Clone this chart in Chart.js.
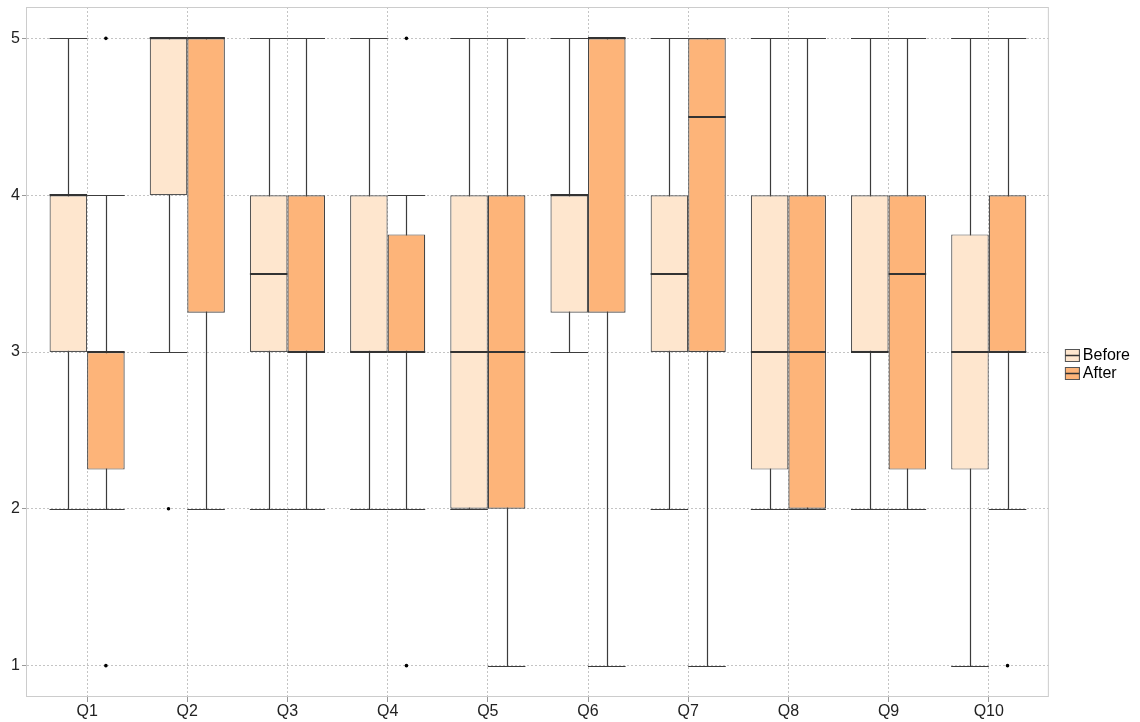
<!DOCTYPE html>
<html lang="en">
<head>
    <meta charset="UTF-8">
    <title>Before / After boxplots</title>
    <style>
        body {
            margin: 0;
            padding: 0;
            background: #ffffff;
            font-family: "Liberation Sans", Arial, sans-serif;
        }
        .chart-box {
            position: relative;
            width: 1140px;
            height: 722px;
        }
    </style>
</head>
<body>
<div class="chart-box">
    <canvas id="chart"></canvas>
</div>

<script src="https://cdn.jsdelivr.net/npm/chart.js"></script>
<script>
    // categories and y ticks
    var categories = ['Q1', 'Q2', 'Q3', 'Q4', 'Q5', 'Q6', 'Q7', 'Q8', 'Q9', 'Q10'];
    var yTicks = [1, 2, 3, 4, 5];

    // Before: whisker low, Q1, median, Q3, whisker high, outliers
    var beforeLow = [2, 3, 2, 2, 2, 3, 2, 2, 2, 1];
    var beforeQ1 = [3, 4, 3, 3, 2, 3.25, 3, 2.25, 3, 2.25];
    var beforeMed = [4, 5, 3.5, 3, 3, 4, 3.5, 3, 3, 3];
    var beforeQ3 = [4, 5, 4, 4, 4, 4, 4, 4, 4, 3.75];
    var beforeHigh = [5, 5, 5, 5, 5, 5, 5, 5, 5, 5];
    var beforeOut = [[], [2], [], [], [], [], [], [], [], []];

    // After
    var afterLow = [2, 2, 2, 2, 1, 1, 1, 2, 2, 2];
    var afterQ1 = [2.25, 3.25, 3, 3, 2, 3.25, 3, 2, 2.25, 3];
    var afterMed = [3, 5, 3, 3, 3, 5, 4.5, 3, 3.5, 3];
    var afterQ3 = [3, 5, 4, 3.75, 4, 5, 5, 4, 4, 4];
    var afterHigh = [4, 5, 5, 4, 5, 5, 5, 5, 5, 5];
    var afterOut = [[5, 1], [], [], [5, 1], [], [], [], [], [], [1]];

    var stats = [
        {low: beforeLow, med: beforeMed, high: beforeHigh, out: beforeOut},
        {low: afterLow, med: afterMed, high: afterHigh, out: afterOut}
    ];

    var lineColor = '#3c3c3c';
    var fontFamily = '"Liberation Sans", Arial, sans-serif';

    function boxData(q1, q3) {
        return categories.map(function (c, i) {
            return {x: i + 1, y: [q1[i], q3[i]]};
        });
    }

    // small boxplot key for the legend
    function legendIcon(fill) {
        var c = document.createElement('canvas');
        c.width = 34;
        c.height = 15;
        var g = c.getContext('2d');
        g.fillStyle = fill;
        g.fillRect(19.5, 1.5, 14, 12);
        g.strokeStyle = '#555';
        g.lineWidth = 1;
        g.strokeRect(19.5, 1.5, 14, 12);
        g.beginPath();
        g.moveTo(19.5, 7.5);
        g.lineTo(33.5, 7.5);
        g.strokeStyle = '#333';
        g.lineWidth = 1.5;
        g.stroke();
        return c;
    }

    var boxplotParts = {
        id: 'boxplotParts',
        beforeDatasetsDraw: function (chart) {
            var ctx = chart.ctx, area = chart.chartArea, y = chart.scales.y;
            // panel border
            ctx.save();
            ctx.strokeStyle = '#cccccc';
            ctx.lineWidth = 1;
            ctx.strokeRect(area.left - 0.5, area.top + 0.5, area.right - area.left, area.bottom - area.top - 1);
            ctx.restore();
            // whiskers + caps
            ctx.save();
            ctx.strokeStyle = lineColor;
            ctx.lineWidth = 1.2;
            stats.forEach(function (s, d) {
                var meta = chart.getDatasetMeta(d);
                meta.data.forEach(function (bar, i) {
                    var x = Math.round(bar.x) + 0.5;
                    var x0 = bar.x - bar.width / 2, x1 = bar.x + bar.width / 2;
                    var yl = Math.round(y.getPixelForValue(s.low[i])) + 0.5;
                    var yh = Math.round(y.getPixelForValue(s.high[i])) + 0.5;
                    ctx.beginPath();
                    ctx.moveTo(x, yl);
                    ctx.lineTo(x, yh);
                    ctx.moveTo(x0, yl);
                    ctx.lineTo(x1, yl);
                    ctx.moveTo(x0, yh);
                    ctx.lineTo(x1, yh);
                    ctx.stroke();
                });
            });
            ctx.restore();
        },
        afterDatasetsDraw: function (chart) {
            var ctx = chart.ctx, y = chart.scales.y;
            ctx.save();
            stats.forEach(function (s, d) {
                var meta = chart.getDatasetMeta(d);
                meta.data.forEach(function (bar, i) {
                    var x0 = bar.x - bar.width / 2, x1 = bar.x + bar.width / 2;
                    var ym = Math.round(y.getPixelForValue(s.med[i]));
                    ctx.beginPath();
                    ctx.strokeStyle = '#333333';
                    ctx.lineWidth = 2;
                    ctx.moveTo(x0, ym);
                    ctx.lineTo(x1, ym);
                    ctx.stroke();
                    s.out[i].forEach(function (v) {
                        ctx.beginPath();
                        ctx.fillStyle = '#000000';
                        ctx.arc(bar.x, y.getPixelForValue(v), 1.8, 0, Math.PI * 2);
                        ctx.fill();
                    });
                });
            });
            ctx.restore();
        }
    };

    var ctx = document.getElementById('chart').getContext('2d');
    new Chart(ctx, {
        type: 'bar',
        data: {
            datasets: [{
                label: 'Before',
                data: boxData(beforeQ1, beforeQ3),
                backgroundColor: '#fee6ce',
                borderColor: '#555555',
                borderWidth: 1.2,
                borderSkipped: false
            }, {
                label: 'After',
                data: boxData(afterQ1, afterQ3),
                backgroundColor: '#fdb479',
                borderColor: '#444444',
                borderWidth: 1.2,
                borderSkipped: false
            }]
        },
        options: {
            responsive: true,
            maintainAspectRatio: false,
            animation: false,
            categoryPercentage: 0.75,
            barPercentage: 1.0,
            layout: {padding: {top: 7}},
            plugins: {
                tooltip: {enabled: false},
                legend: {
                    position: 'right',
                    labels: {
                        usePointStyle: true,
                        pointStyleWidth: 24,
                        padding: 2,
                        color: '#111111',
                        font: {family: fontFamily, size: 16},
                        generateLabels: function (chart) {
                            return chart.data.datasets.map(function (ds, i) {
                                return {
                                    text: ds.label,
                                    pointStyle: legendIcon(ds.backgroundColor),
                                    fillStyle: ds.backgroundColor,
                                    strokeStyle: '#666',
                                    lineWidth: 0,
                                    hidden: false,
                                    datasetIndex: i
                                };
                            });
                        }
                    }
                }
            },
            scales: {
                x: {
                    type: 'linear',
                    min: 0.4,
                    max: 10.6,
                    offset: false,
                    afterBuildTicks: function (s) {
                        s.ticks = categories.map(function (c, i) { return {value: i + 1}; });
                    },
                    afterFit: function (s) {
                        s.height = 25;
                        s.paddingLeft = 0;
                        s.paddingRight = 0;
                    },
                    ticks: {
                        padding: 0,
                        maxRotation: 0,
                        autoSkip: false,
                        color: '#222222',
                        font: {family: fontFamily, size: 16},
                        callback: function (v) { return categories[v - 1]; }
                    },
                    grid: {
                        offset: false,
                        color: '#c4c4c4',
                        tickColor: '#999999',
                        tickLength: 5
                    },
                    border: {display: false, dash: [2, 2]}
                },
                y: {
                    type: 'linear',
                    min: 0.8,
                    max: 5.2,
                    afterBuildTicks: function (s) {
                        s.ticks = yTicks.map(function (v) { return {value: v}; });
                    },
                    afterFit: function (s) {
                        s.width = 27;
                        s.paddingTop = 0;
                        s.paddingBottom = 0;
                    },
                    ticks: {
                        padding: 2,
                        color: '#222222',
                        font: {family: fontFamily, size: 16}
                    },
                    grid: {
                        color: '#c4c4c4',
                        tickColor: '#999999',
                        tickLength: 5
                    },
                    border: {display: false, dash: [2, 2]}
                }
            }
        },
        plugins: [boxplotParts]
    });
</script>
</body>
</html>
